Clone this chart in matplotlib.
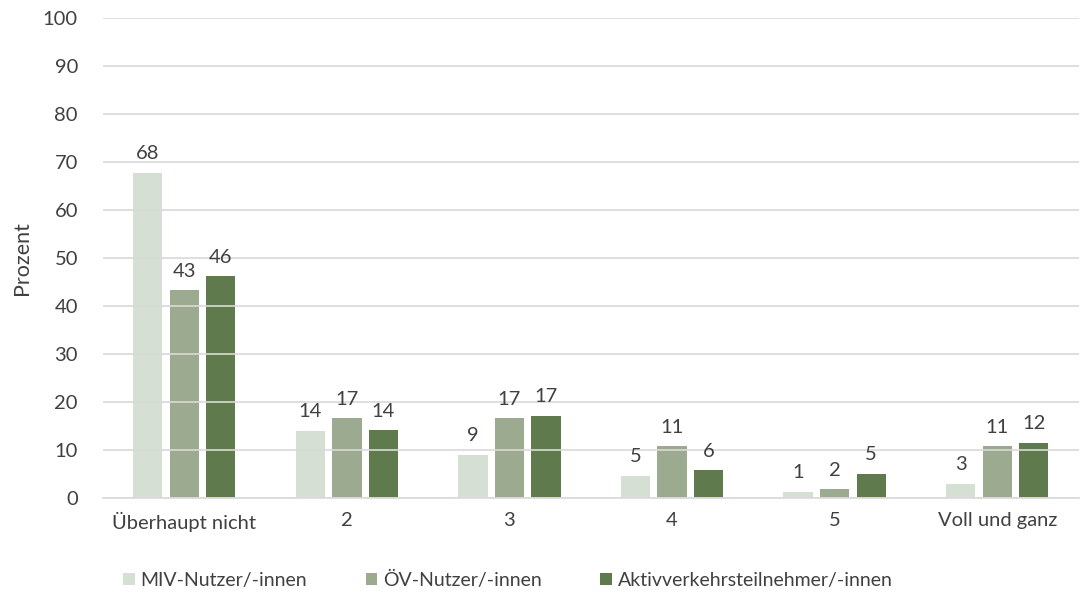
import numpy as np
import matplotlib.pyplot as plt

categories = ["Überhaupt nicht", "2", "3", "4", "5", "Voll und ganz"]
series_names = ["MIV-Nutzer/-innen", "ÖV-Nutzer/-innen", "Aktivverkehrsteilnehmer/-innen"]
miv = [67.7, 14.0, 9.0, 4.6, 1.3, 3.0]
oev = [43.3, 16.6, 16.6, 10.8, 1.8, 10.8]
aktiv = [46.2, 14.1, 17.2, 5.8, 5.1, 11.5]
colors = ["#d6dfd3", "#9cab8f", "#5f7a4d"]

plt.rcParams['font.family'] = ['Lato', 'DejaVu Sans']
txt = "#404040"
fs = 14.5

fig = plt.figure(figsize=(10.84, 5.93), dpi=100)
ax = fig.add_axes([0.095, 0.16, 0.9, 0.81])

x = np.arange(len(categories))
w = 0.18
off = 0.225
for i, (vals, name) in enumerate(zip([miv, oev, aktiv], series_names)):
    pos = x + (i - 1) * off
    bars = ax.bar(pos, vals, width=w, color=colors[i], label=name, zorder=2)
    for b, v in zip(bars, vals):
        ax.text(b.get_x() + b.get_width() / 2, v + 2.2, f"{v:.0f}",
                ha="center", va="bottom", fontsize=fs, color=txt)

ax.set_xlim(-0.5, len(categories) - 0.5)
ax.set_ylim(0, 100)
ax.set_yticks(range(0, 101, 10))
ax.set_xticks(x)
ax.set_xticklabels(categories)
ax.grid(axis="y", color="#d9d9d9", linewidth=1.2, zorder=3)
ax.set_axisbelow(False)
for s in ["top", "right", "left"]:
    ax.spines[s].set_visible(False)
ax.spines["bottom"].set_color("#d9d9d9")
ax.spines["bottom"].set_linewidth(1.2)
ax.tick_params(axis="x", length=0, labelsize=fs, colors=txt, pad=10)
ax.tick_params(axis="y", length=0, labelsize=fs, colors=txt, pad=18)
ax.set_ylabel("Prozent", fontsize=fs + 1, color=txt, labelpad=8)

ax.legend(loc="upper center", bbox_to_anchor=(0.415, -0.115), ncol=3, frameon=False,
          fontsize=14, handlelength=0.6, handleheight=0.6, handletextpad=0.3,
          columnspacing=3.0, labelcolor=txt)

fig.savefig("out.png", dpi=100)
